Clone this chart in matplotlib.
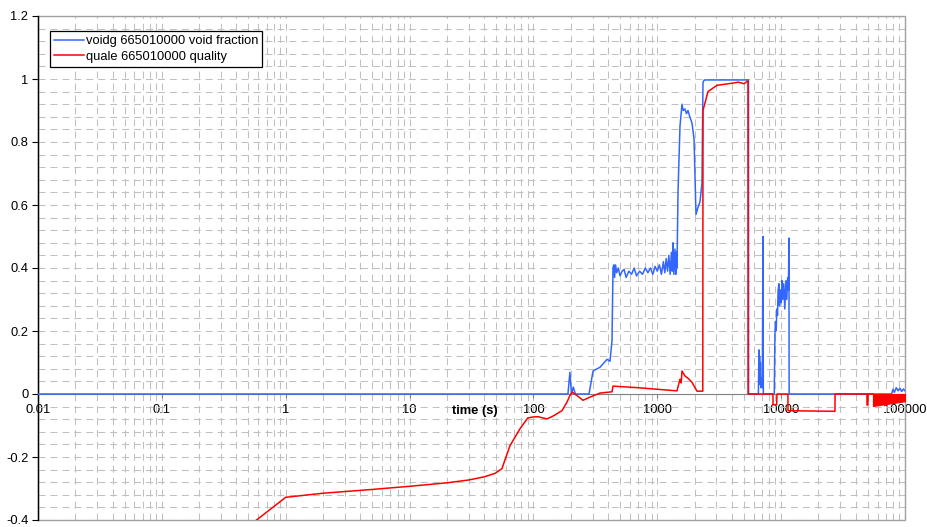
import numpy as np
import matplotlib
matplotlib.use('Agg')
import matplotlib.pyplot as plt
from matplotlib.ticker import LogLocator, MultipleLocator, FixedLocator, FixedFormatter
from matplotlib.patches import Rectangle

plt.rcParams['font.family'] = ['Liberation Sans', 'DejaVu Sans']
plt.rcParams['lines.scale_dashes'] = False

# void fraction (blue)
void_t = [0.01, 190, 197, 203, 210, 218, 225, 232, 281, 303, 345, 393, 415, 431,
          439, 445, 452, 460, 470, 485, 500, 520, 540, 560, 590, 620, 650, 680,
          720, 760, 800, 840, 880, 920, 960, 1000, 1040, 1080, 1120, 1150, 1180,
          1210, 1240, 1270, 1300, 1320, 1340, 1360, 1390, 1410, 1430, 1442, 1470,
          1525, 1583, 1620, 1674, 1720, 1770, 1830, 1907, 1980, 2053, 2120, 2212,
          2295, 2339, 2400, 5450, 5460, 6550, 6620, 6650, 6700, 6750, 6800, 6850,
          6950, 7050, 7130, 7180, 8800, 8910, 9000, 9100, 9250, 9350, 9450, 9600,
          9700, 9850, 10000, 10160, 10300, 10500, 10700, 10940, 11100, 11300,
          11450, 11560, 11600, 78000, 80000, 82000, 85000, 88000, 91000, 94000,
          97000, 100000]
void_v = [0.0, 0.0, 0.069, 0.0, 0.022, 0.0, 0.0, 0.0, 0.0, 0.073, 0.085, 0.11, 0.104, 0.17,
          0.40, 0.41, 0.37, 0.41, 0.385, 0.40, 0.375, 0.39, 0.395, 0.37, 0.39, 0.38, 0.40, 0.375,
          0.39, 0.38, 0.40, 0.385, 0.40, 0.38, 0.405, 0.39, 0.41, 0.38, 0.42, 0.385, 0.43,
          0.39, 0.44, 0.38, 0.45, 0.39, 0.48, 0.38, 0.46, 0.38, 0.45, 0.40, 0.64,
          0.85, 0.92, 0.90, 0.905, 0.89, 0.90, 0.88, 0.86, 0.81, 0.57, 0.59, 0.61,
          0.67, 0.99, 0.997, 0.997, 0.0, 0.0, 0.14, 0.06, 0.12, 0.03, 0.10, 0.02,
          0.05, 0.02, 0.50, 0.0, 0.0, 0.19, 0.23, 0.20, 0.27, 0.25, 0.33, 0.35,
          0.28, 0.33, 0.29, 0.36, 0.30, 0.35, 0.27, 0.36, 0.30, 0.37,
          0.33, 0.495, 0.0, 0.0, 0.015, 0.005, 0.02, 0.01, 0.018, 0.008,
          0.016, 0.01]

# quality (red)
qual_t = [0.5, 1.0, 2, 5, 10, 20, 30, 40, 49, 55.7, 60, 64.7, 78, 90, 99, 109, 119,
          129, 144, 170, 187, 197, 205, 225, 251, 286, 345, 431, 439, 700, 1000,
          1442, 1525, 1560, 1583, 1674, 1770, 1907, 2092, 2330, 2339, 2566, 3034,
          4086, 4500, 5000, 5400, 5410, 8590, 8600, 9200, 9250, 11350, 11360,
          27200, 27250, 49300, 49350, 50200, 50250, 55100]
qual_v = [-0.42, -0.328, -0.315, -0.303, -0.293, -0.282, -0.273, -0.263, -0.252, -0.237,
          -0.2, -0.164, -0.11, -0.076, -0.073, -0.072, -0.076, -0.079, -0.07, -0.053,
          -0.025, -0.005, 0.006, -0.005, -0.02, -0.01, 0.003, 0.007, 0.025, 0.02, 0.015,
          0.01, 0.047, 0.035, 0.073, 0.057, 0.05, 0.037, 0.009, 0.009, 0.9, 0.96, 0.98,
          0.987, 0.99, 0.985, 0.994, 0.0, 0.0, -0.034, -0.034, 0.0, 0.0, -0.053,
          -0.055, 0.0, 0.0, -0.035, -0.035, 0.0, 0.0]

# envelope of the fast oscillation at the end of the quality trace
osc_t = [55100, 70000, 85000, 100000]
osc_lo = [-0.038, -0.032, -0.027, -0.023]

xticks = [0.01, 0.1, 1, 10, 100, 1000, 10000, 100000]
xlabels = ['0.01', '0.1', '1', '10', '100', '1000', '10000', '100000']
yticks = [-0.4, -0.2, 0, 0.2, 0.4, 0.6, 0.8, 1, 1.2]
ylabels = ['-0.4', '-0.2', '0', '0.2', '0.4', '0.6', '0.8', '1', '1.2']

BLUE = '#3366ff'
RED = '#ff0000'
GRID = '#c0c0c0'
FS = 9.3

fig = plt.figure(figsize=(9.28, 5.27), dpi=100)
ax = fig.add_axes([38 / 928, 1 - 520 / 527, 867 / 928, 504 / 527])

ax.set_xscale('log')
ax.set_xlim(0.01, 100000)
ax.set_ylim(-0.4, 1.2)

ax.xaxis.set_major_locator(FixedLocator(xticks))
ax.xaxis.set_major_formatter(FixedFormatter(xlabels))
ax.xaxis.set_minor_locator(LogLocator(base=10, subs=np.arange(2, 10), numticks=20))
ax.xaxis.set_minor_formatter(FixedFormatter([]))
ax.yaxis.set_major_locator(FixedLocator(yticks))
ax.yaxis.set_major_formatter(FixedFormatter(ylabels))
ax.yaxis.set_minor_locator(MultipleLocator(0.04))

ax.set_axisbelow(True)
ax.grid(True, which='both', color=GRID, lw=0.75, dashes=(5, 3.6))

ax.plot(void_t, void_v, color=BLUE, lw=1.1, label='voidg 665010000 void fraction', zorder=3)
ax.plot(qual_t, qual_v, color=RED, lw=1.1, label='quale 665010000 quality', zorder=4)
ax.fill_between(osc_t, osc_lo, 0, color=RED, lw=0.8, zorder=4)

# spines
for s in ['top', 'right']:
    ax.spines[s].set_visible(False)
ax.spines['bottom'].set_position(('data', 0))
ax.spines['bottom'].set_color('#808080')
ax.spines['bottom'].set_zorder(2.5)
ax.spines['left'].set_color('black')
ax.spines['left'].set_linewidth(1.0)
ax.add_patch(Rectangle((0, 0), 1, 1, transform=ax.transAxes, fill=False,
                       edgecolor='#a0a0a0', lw=1.0, clip_on=False, zorder=1))

ax.tick_params(axis='x', which='major', direction='out', length=3, color='#808080',
               labelsize=FS, pad=4)
ax.tick_params(axis='x', which='minor', length=0)
ax.tick_params(axis='y', which='major', direction='out', length=4, color='black',
               labelsize=FS, pad=3)
ax.tick_params(axis='y', which='minor', length=0)

fig.text(475 / 928, 1 - 411 / 527, 'time (s)', ha='center', va='center',
         fontsize=FS, fontweight='bold')

leg = ax.legend(loc='upper left', bbox_to_anchor=(0.0138, 0.970), fontsize=FS,
                frameon=True, fancybox=False, edgecolor='black', framealpha=1,
                borderpad=0.3, handlelength=2.3, handletextpad=0.2, labelspacing=0.3,
                borderaxespad=0)
leg.get_frame().set_linewidth(0.9)

fig.savefig('out.png', dpi=100)
